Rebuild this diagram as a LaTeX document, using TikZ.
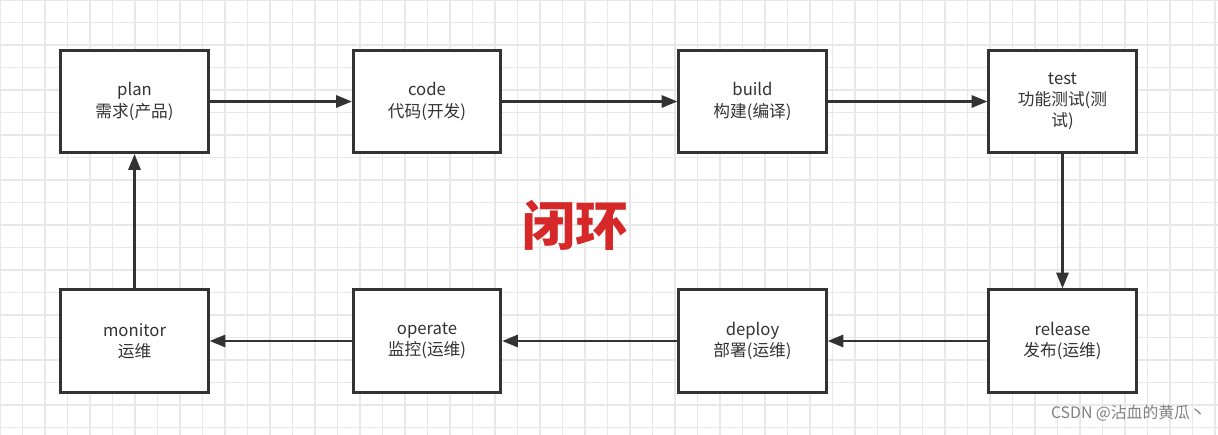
\documentclass[tikz,border=0pt]{standalone}
\usepackage{fontspec}
\setmainfont{Noto Sans CJK SC}
\usetikzlibrary{arrows.meta}
\definecolor{gridgray}{RGB}{232,232,232}
\definecolor{boxline}{RGB}{51,51,51}
\definecolor{loopred}{RGB}{214,40,40}
\tikzset{
  stage/.style={draw=boxline, line width=1.6pt, fill=white, minimum width=2.95cm,
    minimum height=2.05cm, align=center, font=\fontsize{9.5}{12}\selectfont, text=boxline, inner sep=2pt},
  flow/.style={draw=boxline, line width=1.3pt, -{Triangle[length=9pt,width=7pt]}}
}
\begin{document}
\begin{tikzpicture}[x=0.02cm,y=-0.02cm]
  \useasboundingbox (0,0) rectangle (1218,435);
  % grid
  \foreach \gx in {0,22.5,...,1218} \draw[gridgray, line width=0.6pt] (\gx,0) -- (\gx,435);
  \foreach \gy in {0,22.5,...,435} \draw[gridgray, line width=0.6pt] (0,\gy) -- (1218,\gy);
  % top row
  \node[stage] (plan)  at (134.5,101.5) {plan\\需求(产品)};
  \node[stage] (code)  at (427,101.5)   {code\\代码(开发)};
  \node[stage] (build) at (752.5,101.5) {build\\构建(编译)};
  \node[stage, text width=2.7cm] (test)  at (1062.5,101.5) {test\\功能测试(测\\试)};
  % bottom row
  \node[stage] (monitor) at (134.5,341) {monitor\\运维};
  \node[stage] (operate) at (427,341)   {operate\\监控(运维)};
  \node[stage] (deploy)  at (752.5,341) {deploy\\部署(运维)};
  \node[stage] (release) at (1062.5,341) {release\\发布(运维)};
  % arrows
  \draw[flow] (plan) -- (code);
  \draw[flow] (code) -- (build);
  \draw[flow] (build) -- (test);
  \draw[flow] (test) -- (release);
  \draw[flow] (release) -- (deploy);
  \draw[flow] (deploy) -- (operate);
  \draw[flow] (operate) -- (monitor);
  \draw[flow] (monitor) -- (plan);
  % labels
  \node[text=loopred, font=\fontsize{30}{34}\selectfont\bfseries] (loop) at (575,225) {闭环};
  \node[text=gray, font=\fontsize{9}{11}\selectfont, anchor=east] (mark) at (1212,413) {CSDN @沾血的黄瓜丶};
\end{tikzpicture}
\end{document}
